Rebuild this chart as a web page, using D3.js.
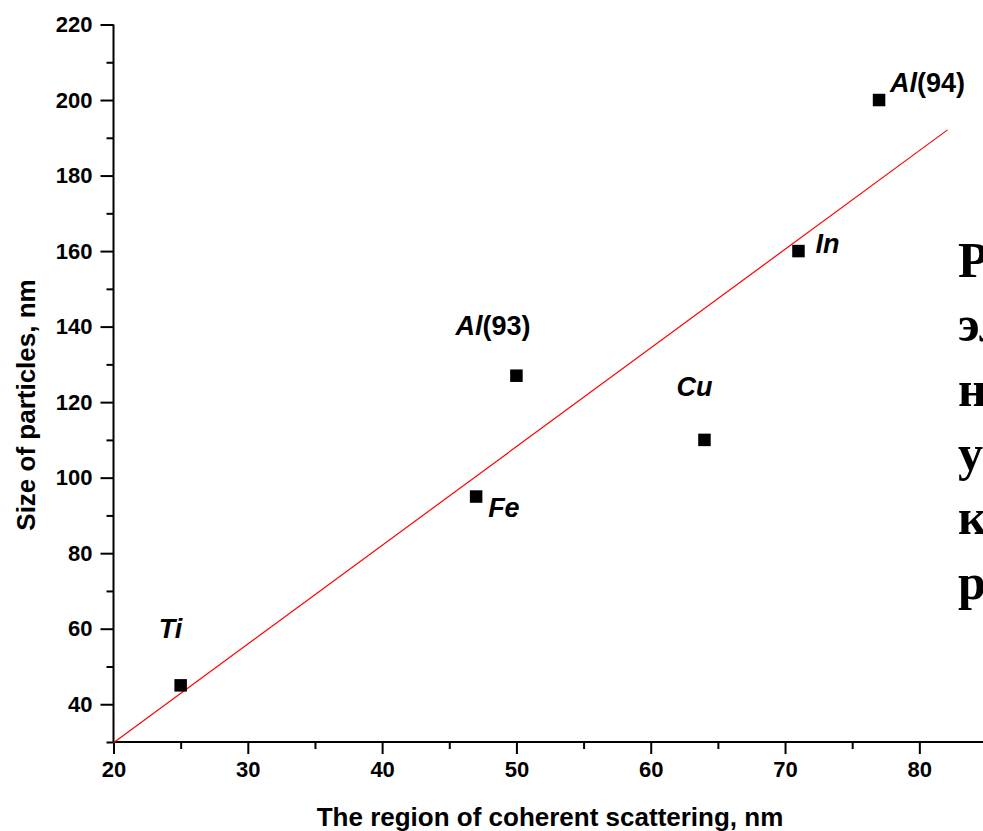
<!DOCTYPE html>
<html>
<head>
<meta charset="utf-8">
<script src="https://cdn.jsdelivr.net/npm/d3@7"></script>
<style>
  body { margin: 0; background: #fff; }
  svg { display: block; }
  .axis text { font-family: "Liberation Sans", Arial, sans-serif; font-weight: bold; font-size: 22px; fill: #000; }
  .axis path, .axis line { stroke: #000; stroke-width: 2px; }
</style>
</head>
<body>
<div id="graph"></div>
<script>
// metals, with the two Al samples marked by their number
const metals = ['Ti', 'Fe', 'Al', 'Cu', 'In', 'Al'];
const sampleNo = [null, null, '93', null, null, '94'];
const coherentRegion = [25, 47, 50, 64, 71, 77];   // nm
const particleSize = [45, 95, 127, 110, 160, 200];  // nm
// ends of the red fit line
const fitX = [20, 82.1];
const fitY = [29.8, 192.1];

const xMajor = [20, 30, 40, 50, 60, 70, 80];
const xMinor = [25, 35, 45, 55, 65, 75, 85];
const yMajor = [40, 60, 80, 100, 120, 140, 160, 180, 200, 220];
const yMinor = [30, 50, 70, 90, 110, 130, 150, 170, 190, 210];

// page text behind the chart, only its first letters show
const sideText = ['Размер частиц', 'электровзрывных', 'нанопорошков', 'увеличивается с ростом', 'когерентного', 'рассеяния'];

const width = 983, height = 831;

const svg = d3.select('#graph')
    .append('svg')
    .attr('width', width)
    .attr('height', height);

const x = d3.scaleLinear().domain([20, 85]).range([113.5, 986.5]);
const y = d3.scaleLinear().domain([30, 220]).range([742, 24.5]);

// x axis
svg.append('g')
    .attr('class', 'axis')
    .attr('transform', 'translate(0,742)')
    .call(d3.axisBottom(x).tickValues(xMajor).tickSize(12).tickPadding(7).tickFormat(d3.format('d')))
    .call(g => g.select('.domain').attr('d', `M${x.range()[0]},0H${x.range()[1]}`));

svg.append('g')
    .attr('class', 'axis')
    .attr('transform', 'translate(0,742)')
    .call(d3.axisBottom(x).tickValues(xMinor).tickSize(7).tickFormat(''))
    .call(g => g.select('.domain').remove());

// y axis
svg.append('g')
    .attr('class', 'axis')
    .attr('transform', 'translate(113.5,0)')
    .call(d3.axisLeft(y).tickValues(yMajor).tickSize(13).tickPadding(8).tickFormat(d3.format('d')))
    .call(g => g.select('.domain').attr('d', `M0,${y.range()[0]}V${y.range()[1]}`));

svg.append('g')
    .attr('class', 'axis')
    .attr('transform', 'translate(113.5,0)')
    .call(d3.axisLeft(y).tickValues(yMinor).tickSize(7).tickFormat(''))
    .call(g => g.select('.domain').remove());

// axis titles
svg.append('text')
    .attr('x', 550)
    .attr('y', 826)
    .attr('text-anchor', 'middle')
    .attr('font-family', '"Liberation Sans", Arial, sans-serif')
    .attr('font-weight', 'bold')
    .attr('font-size', 26)
    .text('The region of coherent scattering, nm');

svg.append('text')
    .attr('transform', 'translate(35,405) rotate(-90)')
    .attr('text-anchor', 'middle')
    .attr('font-family', '"Liberation Sans", Arial, sans-serif')
    .attr('font-weight', 'bold')
    .attr('font-size', 26)
    .text('Size of particles, nm');

// fit line
svg.append('line')
    .attr('x1', x(fitX[0])).attr('y1', y(fitY[0]))
    .attr('x2', x(fitX[1])).attr('y2', y(fitY[1]))
    .attr('stroke', '#ff0000')
    .attr('stroke-width', 1.2);

// points
const pts = metals.map((m, i) => ({ m, no: sampleNo[i], cx: coherentRegion[i], sz: particleSize[i] }));
const s = 12.5;
svg.append('g')
    .selectAll('rect')
    .data(pts)
    .enter().append('rect')
    .attr('x', d => x(d.cx) - s / 2)
    .attr('y', d => y(d.sz) - s / 2)
    .attr('width', s)
    .attr('height', s)
    .attr('fill', '#000');

// labels, offsets in px from the marker
const labelOffsets = [[-22, -47], [12, 20], [-61, -41], [-28, -44], [17, 2], [11, -8]];
const lab = svg.append('g')
    .selectAll('text')
    .data(pts)
    .enter().append('text')
    .attr('x', (d, i) => x(d.cx) + labelOffsets[i][0])
    .attr('y', (d, i) => y(d.sz) + labelOffsets[i][1])
    .attr('font-family', '"Liberation Sans", Arial, sans-serif')
    .attr('font-weight', 'bold')
    .attr('font-size', 27);
lab.append('tspan').attr('font-style', 'italic').text(d => d.m);
lab.filter(d => d.no).append('tspan').text(d => `(${d.no})`);

// text of the page behind, cut by the right edge
svg.append('g')
    .selectAll('text')
    .data(sideText)
    .enter().append('text')
    .attr('x', 958)
    .attr('y', (d, i) => 277 + i * 64.3)
    .attr('font-family', '"Liberation Serif", "Times New Roman", serif')
    .attr('font-weight', 'bold')
    .attr('font-size', 50)
    .text(d => d);
</script>
</body>
</html>
